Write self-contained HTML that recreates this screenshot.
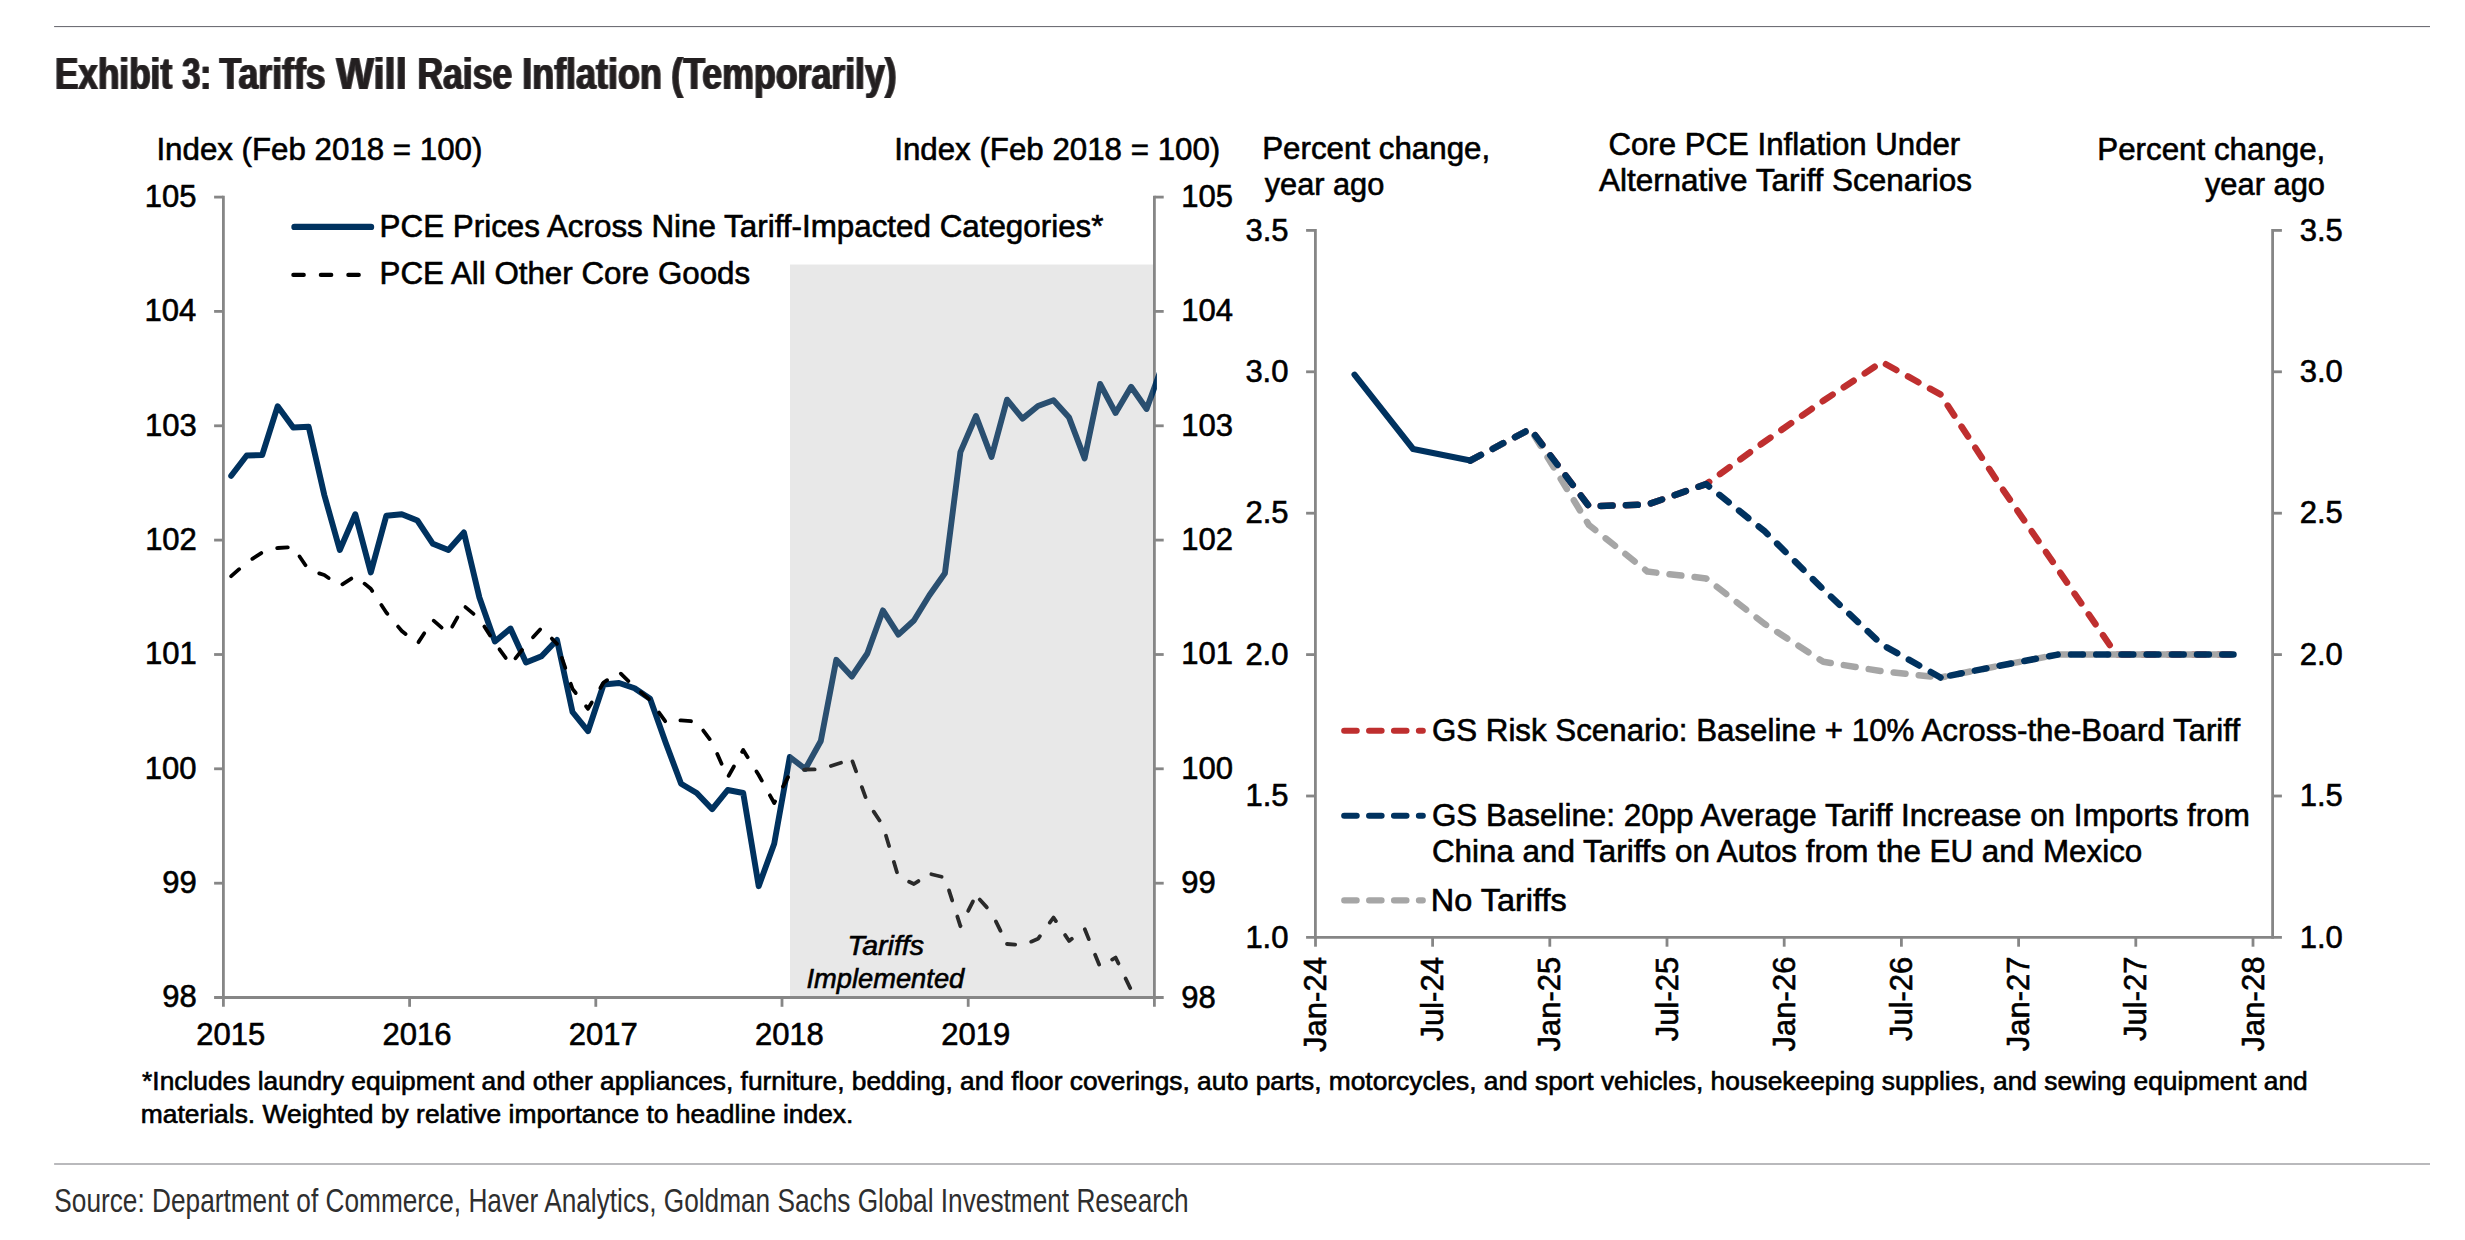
<!DOCTYPE html>
<html lang="en"><head><meta charset="utf-8"><title>Exhibit 3: Tariffs Will Raise Inflation (Temporarily)</title>
<style>html,body{margin:0;padding:0;background:#fff}svg{display:block}text{font-family:"Liberation Sans",sans-serif;stroke:#000;stroke-width:.6px}.ns{stroke:none}</style>
</head><body>
<svg width="2465" height="1240" viewBox="0 0 2465 1240">
<rect width="2465" height="1240" fill="#fff"/>
<rect x="54.1" y="26" width="2375.9" height="1.1" fill="#6f6f76"/>
<rect x="54.1" y="1163.2" width="2375.9" height="1.6" fill="#a9a9ac"/>
<filter id="hb" color-interpolation-filters="sRGB" x="-2%" y="-20%" width="104%" height="140%"><feMorphology in="SourceGraphic" operator="dilate" radius="1 0" result="d"/><feComponentTransfer in="d" result="e"><feFuncA type="linear" slope="0.8"/></feComponentTransfer><feMerge><feMergeNode in="e"/><feMergeNode in="SourceGraphic"/></feMerge></filter>
<text y="88.70" font-size="43.5" font-weight="bold" fill="#231f20" class="ns" filter="url(#hb)"><tspan x="54.88" textLength="117.23" lengthAdjust="spacingAndGlyphs">Exhibit</tspan> <tspan x="182.28" textLength="28.95" lengthAdjust="spacingAndGlyphs">3:</tspan> <tspan x="219.51" textLength="106.01" lengthAdjust="spacingAndGlyphs">Tariffs</tspan> <tspan x="336.16" textLength="70.62" lengthAdjust="spacingAndGlyphs">Will</tspan> <tspan x="417.46" textLength="94.77" lengthAdjust="spacingAndGlyphs">Raise</tspan> <tspan x="522.23" textLength="139.71" lengthAdjust="spacingAndGlyphs">Inflation</tspan> <tspan x="671.25" textLength="225.50" lengthAdjust="spacingAndGlyphs">(Temporarily)</tspan></text>
<text x="54.32" y="1212.00" font-size="33.1" textLength="1134.36" lengthAdjust="spacingAndGlyphs" fill="#2e2e2e" class="ns">Source: Department of Commerce, Haver Analytics, Goldman Sachs Global Investment Research</text>
<line x1="223.4" y1="195.7" x2="223.4" y2="1006.8" stroke="#868686" stroke-width="2.8"/>
<line x1="1154.4" y1="195.7" x2="1154.4" y2="1006.8" stroke="#868686" stroke-width="2.8"/>
<line x1="214.1" y1="997.5" x2="1163.7" y2="997.5" stroke="#868686" stroke-width="2.8"/>
<text x="162.16" y="1007.40" font-size="31" textLength="34.48" lengthAdjust="spacingAndGlyphs">98</text>
<text x="1181.30" y="1007.50" font-size="31" textLength="34.48" lengthAdjust="spacingAndGlyphs">98</text>
<line x1="214.1" y1="883.2" x2="223.4" y2="883.2" stroke="#868686" stroke-width="2.8"/>
<line x1="1154.4" y1="883.2" x2="1163.7" y2="883.2" stroke="#868686" stroke-width="2.8"/>
<text x="162.29" y="893.06" font-size="31" textLength="34.48" lengthAdjust="spacingAndGlyphs">99</text>
<text x="1181.30" y="893.16" font-size="31" textLength="34.48" lengthAdjust="spacingAndGlyphs">99</text>
<line x1="214.1" y1="768.8" x2="223.4" y2="768.8" stroke="#868686" stroke-width="2.8"/>
<line x1="1154.4" y1="768.8" x2="1163.7" y2="768.8" stroke="#868686" stroke-width="2.8"/>
<text x="144.77" y="778.71" font-size="31" textLength="51.72" lengthAdjust="spacingAndGlyphs">100</text>
<text x="1181.30" y="778.81" font-size="31" textLength="51.72" lengthAdjust="spacingAndGlyphs">100</text>
<line x1="214.1" y1="654.5" x2="223.4" y2="654.5" stroke="#868686" stroke-width="2.8"/>
<line x1="1154.4" y1="654.5" x2="1163.7" y2="654.5" stroke="#868686" stroke-width="2.8"/>
<text x="145.08" y="664.37" font-size="31" textLength="51.72" lengthAdjust="spacingAndGlyphs">101</text>
<text x="1181.30" y="664.47" font-size="31" textLength="51.72" lengthAdjust="spacingAndGlyphs">101</text>
<line x1="214.1" y1="540.1" x2="223.4" y2="540.1" stroke="#868686" stroke-width="2.8"/>
<line x1="1154.4" y1="540.1" x2="1163.7" y2="540.1" stroke="#868686" stroke-width="2.8"/>
<text x="145.14" y="550.03" font-size="31" textLength="51.72" lengthAdjust="spacingAndGlyphs">102</text>
<text x="1181.30" y="550.13" font-size="31" textLength="51.72" lengthAdjust="spacingAndGlyphs">102</text>
<line x1="214.1" y1="425.8" x2="223.4" y2="425.8" stroke="#868686" stroke-width="2.8"/>
<line x1="1154.4" y1="425.8" x2="1163.7" y2="425.8" stroke="#868686" stroke-width="2.8"/>
<text x="144.93" y="435.69" font-size="31" textLength="51.72" lengthAdjust="spacingAndGlyphs">103</text>
<text x="1181.30" y="435.79" font-size="31" textLength="51.72" lengthAdjust="spacingAndGlyphs">103</text>
<line x1="214.1" y1="311.4" x2="223.4" y2="311.4" stroke="#868686" stroke-width="2.8"/>
<line x1="1154.4" y1="311.4" x2="1163.7" y2="311.4" stroke="#868686" stroke-width="2.8"/>
<text x="144.49" y="321.34" font-size="31" textLength="51.72" lengthAdjust="spacingAndGlyphs">104</text>
<text x="1181.30" y="321.44" font-size="31" textLength="51.72" lengthAdjust="spacingAndGlyphs">104</text>
<line x1="214.1" y1="197.1" x2="223.4" y2="197.1" stroke="#868686" stroke-width="2.8"/>
<line x1="1154.4" y1="197.1" x2="1163.7" y2="197.1" stroke="#868686" stroke-width="2.8"/>
<text x="144.86" y="207.00" font-size="31" textLength="51.72" lengthAdjust="spacingAndGlyphs">105</text>
<text x="1181.30" y="207.10" font-size="31" textLength="51.72" lengthAdjust="spacingAndGlyphs">105</text>
<line x1="409.6" y1="997.5" x2="409.6" y2="1006.8" stroke="#868686" stroke-width="2.8"/>
<line x1="595.8" y1="997.5" x2="595.8" y2="1006.8" stroke="#868686" stroke-width="2.8"/>
<line x1="782.0" y1="997.5" x2="782.0" y2="1006.8" stroke="#868686" stroke-width="2.8"/>
<line x1="968.2" y1="997.5" x2="968.2" y2="1006.8" stroke="#868686" stroke-width="2.8"/>
<text x="196.29" y="1044.80" font-size="31" textLength="68.96" lengthAdjust="spacingAndGlyphs">2015</text>
<text x="382.52" y="1044.80" font-size="31" textLength="68.96" lengthAdjust="spacingAndGlyphs">2016</text>
<text x="568.83" y="1044.80" font-size="31" textLength="68.96" lengthAdjust="spacingAndGlyphs">2017</text>
<text x="754.92" y="1044.80" font-size="31" textLength="68.96" lengthAdjust="spacingAndGlyphs">2018</text>
<text x="941.18" y="1044.80" font-size="31" textLength="68.96" lengthAdjust="spacingAndGlyphs">2019</text>
<text x="156.42" y="159.80" font-size="31" textLength="326.01" lengthAdjust="spacingAndGlyphs">Index (Feb 2018 = 100)</text>
<text x="894.22" y="159.80" font-size="31" textLength="326.01" lengthAdjust="spacingAndGlyphs">Index (Feb 2018 = 100)</text>
<clipPath id="cl"><rect x="223.4" y="197.1" width="933.5" height="800.4"/></clipPath>
<g clip-path="url(#cl)">
<polyline points="231.2,475.8 246.7,455.5 262.2,455.0 277.7,406.2 293.2,427.5 308.7,426.8 324.3,495.0 339.8,550.0 355.3,514.2 370.8,572.5 386.3,515.8 401.8,514.2 417.4,520.5 432.9,543.8 448.4,550.0 463.9,532.5 479.4,597.5 494.9,641.5 510.5,628.5 526.0,662.5 541.5,656.2 557.0,640.0 572.5,712.0 588.0,731.2 603.6,684.5 619.1,683.0 634.6,688.2 650.1,698.8 665.6,742.5 681.1,783.8 696.7,793.0 712.2,809.2 727.7,790.0 743.2,793.0 758.7,886.2 774.2,843.8 789.8,757.0 805.3,769.0 820.8,741.0 836.3,659.8 851.8,676.5 867.3,653.5 882.9,610.4 898.4,634.6 913.9,620.5 929.4,595.3 944.9,573.3 960.4,452.2 976.0,416.0 991.5,457.0 1007.0,399.7 1022.5,418.6 1038.0,406.0 1053.5,400.3 1069.1,417.6 1084.6,458.5 1100.1,384.0 1115.6,413.0 1131.1,386.8 1146.6,409.0 1162.2,366.0" fill="none" stroke="#00325f" stroke-width="5.9" stroke-linecap="round" stroke-linejoin="round"/>
<polyline points="231.2,576.2 246.7,562.5 262.2,552.5 277.7,548.0 293.2,547.0 308.7,570.0 324.3,575.0 339.8,586.0 355.3,576.0 370.8,588.8 386.3,612.5 401.8,631.0 417.4,643.8" fill="none" stroke="#000" stroke-width="3.8" stroke-dasharray="10.6 16.8" stroke-dashoffset="0" stroke-linecap="round" stroke-linejoin="round"/>
<polyline points="417.4,643.8 432.9,620.0 448.4,633.5 463.9,605.8" fill="none" stroke="#000" stroke-width="3.8" stroke-dasharray="10.6 16.8" stroke-dashoffset="25.4" stroke-linecap="round" stroke-linejoin="round"/>
<polyline points="463.9,605.8 479.4,618.8 494.9,643.0 510.5,664.5" fill="none" stroke="#000" stroke-width="3.8" stroke-dasharray="10.6 16.8" stroke-dashoffset="25.4" stroke-linecap="round" stroke-linejoin="round"/>
<polyline points="510.5,664.5 526.0,645.0 541.5,628.0 557.0,643.8" fill="none" stroke="#000" stroke-width="3.8" stroke-dasharray="10.6 16.8" stroke-dashoffset="19.5" stroke-linecap="round" stroke-linejoin="round"/>
<polyline points="557.0,643.8 572.5,688.8 588.0,708.8 603.6,682.5 619.1,672.0" fill="none" stroke="#000" stroke-width="3.8" stroke-dasharray="10.6 16.8" stroke-dashoffset="12.5" stroke-linecap="round" stroke-linejoin="round"/>
<polyline points="619.1,672.0 634.6,687.0 650.1,700.0 665.6,721.8" fill="none" stroke="#000" stroke-width="3.8" stroke-dasharray="10.6 16.8" stroke-dashoffset="25" stroke-linecap="round" stroke-linejoin="round"/>
<polyline points="665.6,721.8 681.1,720.4 696.7,721.7 712.2,742.5 727.7,777.5" fill="none" stroke="#000" stroke-width="3.8" stroke-dasharray="10.6 16.8" stroke-dashoffset="12.5" stroke-linecap="round" stroke-linejoin="round"/>
<polyline points="727.7,777.5 743.2,750.0 758.7,775.0 774.2,803.0 789.8,774.0" fill="none" stroke="#000" stroke-width="3.8" stroke-dasharray="10.6 16.8" stroke-dashoffset="25.4" stroke-linecap="round" stroke-linejoin="round"/>
<polyline points="789.8,774.0 805.3,769.5 820.8,769.4 836.3,764.2 851.8,759.5" fill="none" stroke="#000" stroke-width="3.8" stroke-dasharray="10.6 16.8" stroke-dashoffset="12.5" stroke-linecap="round" stroke-linejoin="round"/>
<polyline points="851.8,759.5 867.3,802.0 882.9,825.5 898.4,877.0 913.9,884.0 929.4,873.8" fill="none" stroke="#000" stroke-width="3.8" stroke-dasharray="10.6 16.8" stroke-dashoffset="25.4" stroke-linecap="round" stroke-linejoin="round"/>
<polyline points="929.4,873.8 944.9,877.5 960.4,926.2 976.0,895.5" fill="none" stroke="#000" stroke-width="3.8" stroke-dasharray="10.6 16.8" stroke-dashoffset="25.4" stroke-linecap="round" stroke-linejoin="round"/>
<polyline points="976.0,895.5 991.5,912.5 1007.0,944.0" fill="none" stroke="#000" stroke-width="3.8" stroke-dasharray="10.6 16.8" stroke-dashoffset="21.9" stroke-linecap="round" stroke-linejoin="round"/>
<polyline points="1007.0,944.0 1022.5,945.3 1038.0,938.8 1053.5,917.5 1069.1,941.0 1084.6,928.8 1100.1,967.0 1115.6,957.5 1131.1,990.0 1146.6,1040.0" fill="none" stroke="#000" stroke-width="3.8" stroke-dasharray="10.6 16.8" stroke-dashoffset="2.4" stroke-linecap="round" stroke-linejoin="round"/>
</g>
<rect x="790" y="264.5" width="363.0" height="731.7" fill="#a5a5a5" fill-opacity="0.255"/>
<line x1="294.5" y1="226.9" x2="371" y2="226.9" stroke="#00325f" stroke-width="6.4" stroke-linecap="round"/>
<line x1="293.3" y1="274.9" x2="360" y2="274.9" stroke="#000" stroke-width="4.1" stroke-dasharray="10.5 17" stroke-linecap="round"/>
<text x="379.63" y="236.60" font-size="31" textLength="723.86" lengthAdjust="spacingAndGlyphs">PCE Prices Across Nine Tariff-Impacted Categories*</text>
<text x="379.63" y="284.40" font-size="31" textLength="370.51" lengthAdjust="spacingAndGlyphs">PCE All Other Core Goods</text>
<text x="847.46" y="955.00" font-size="27.2" textLength="76.61" lengthAdjust="spacingAndGlyphs" font-style="italic">Tariffs</text>
<text x="806.44" y="987.50" font-size="27.2" textLength="157.82" lengthAdjust="spacingAndGlyphs" font-style="italic">Implemented</text>
<polyline points="1470.4,460.5 1530.3,429.0 1588.9,506.2 1647.5,504.6 1706.1,484.1 1764.7,441.6 1823.3,400.8 1881.9,362.0 1940.5,394.5 1999.1,484.0 2057.7,569.0 2116.3,654.6 2174.9,654.6 2233.5,654.6" stroke="#bf2f2f" stroke-dashoffset="0" stroke-dasharray="11.9 13.3" stroke-linecap="round" stroke-linejoin="round" stroke-width="6.5" fill="none"/>
<polyline points="1470.4,460.5 1530.3,429.0 1588.9,525.0 1647.5,571.6 1706.1,578.4 1764.7,624.0 1823.3,661.8 1881.9,671.2 1940.5,677.5" stroke="#a6a6a6" stroke-dashoffset="0" stroke-dasharray="11.9 13.3" stroke-linecap="round" stroke-linejoin="round" stroke-width="6.5" fill="none"/>
<polyline points="1940.5,677.5 1999.1,665.8 2057.7,654.6 2116.3,654.6 2174.9,654.6 2233.5,654.6" stroke="#a6a6a6" stroke-dashoffset="6.7" stroke-dasharray="11.9 13.3" stroke-linecap="round" stroke-linejoin="round" stroke-width="6.5" fill="none"/>
<polyline points="1470.4,460.5 1530.3,429.0 1588.9,506.2 1647.5,504.6 1706.1,484.1 1764.7,531.3 1823.3,589.4 1881.9,644.5 1940.5,677.5" stroke="#00325f" stroke-dashoffset="0" stroke-dasharray="11.9 13.3" stroke-linecap="round" stroke-linejoin="round" stroke-width="6.5" fill="none"/>
<polyline points="1940.5,677.5 1999.1,665.8 2057.7,654.6" stroke="#00325f" stroke-dashoffset="15.4" stroke-dasharray="11.9 13.3" stroke-linecap="round" stroke-linejoin="round" stroke-width="6.5" fill="none"/>
<polyline points="2057.7,654.6 2116.3,654.6 2174.9,654.6 2233.5,654.6" stroke="#00325f" stroke-dashoffset="11.9" stroke-dasharray="11.9 13.3" stroke-linecap="round" stroke-linejoin="round" stroke-width="6.5" fill="none"/>
<polyline points="1354.5,374.7 1413.1,449.0 1470.4,460.5" stroke="#00325f" stroke-width="6.1" fill="none" stroke-linecap="round" stroke-linejoin="round"/>
<line x1="1315.4" y1="229.0" x2="1315.4" y2="938.8" stroke="#868686" stroke-width="2.8"/>
<line x1="2272.6" y1="229.0" x2="2272.6" y2="938.8" stroke="#868686" stroke-width="2.8"/>
<line x1="1306.1" y1="937.4" x2="2281.9" y2="937.4" stroke="#868686" stroke-width="2.8"/>
<text x="1245.39" y="947.60" font-size="31" textLength="43.09" lengthAdjust="spacingAndGlyphs">1.0</text>
<text x="2299.70" y="947.60" font-size="31" textLength="43.09" lengthAdjust="spacingAndGlyphs">1.0</text>
<line x1="1306.1" y1="796.0" x2="1315.4" y2="796.0" stroke="#868686" stroke-width="2.8"/>
<line x1="2272.6" y1="796.0" x2="2281.9" y2="796.0" stroke="#868686" stroke-width="2.8"/>
<text x="1245.48" y="806.21" font-size="31" textLength="43.09" lengthAdjust="spacingAndGlyphs">1.5</text>
<text x="2299.70" y="806.21" font-size="31" textLength="43.09" lengthAdjust="spacingAndGlyphs">1.5</text>
<line x1="1306.1" y1="654.6" x2="1315.4" y2="654.6" stroke="#868686" stroke-width="2.8"/>
<line x1="2272.6" y1="654.6" x2="2281.9" y2="654.6" stroke="#868686" stroke-width="2.8"/>
<text x="1245.39" y="664.82" font-size="31" textLength="43.09" lengthAdjust="spacingAndGlyphs">2.0</text>
<text x="2299.70" y="664.82" font-size="31" textLength="43.09" lengthAdjust="spacingAndGlyphs">2.0</text>
<line x1="1306.1" y1="513.2" x2="1315.4" y2="513.2" stroke="#868686" stroke-width="2.8"/>
<line x1="2272.6" y1="513.2" x2="2281.9" y2="513.2" stroke="#868686" stroke-width="2.8"/>
<text x="1245.48" y="523.43" font-size="31" textLength="43.09" lengthAdjust="spacingAndGlyphs">2.5</text>
<text x="2299.70" y="523.43" font-size="31" textLength="43.09" lengthAdjust="spacingAndGlyphs">2.5</text>
<line x1="1306.1" y1="371.8" x2="1315.4" y2="371.8" stroke="#868686" stroke-width="2.8"/>
<line x1="2272.6" y1="371.8" x2="2281.9" y2="371.8" stroke="#868686" stroke-width="2.8"/>
<text x="1245.39" y="382.04" font-size="31" textLength="43.09" lengthAdjust="spacingAndGlyphs">3.0</text>
<text x="2299.70" y="382.04" font-size="31" textLength="43.09" lengthAdjust="spacingAndGlyphs">3.0</text>
<line x1="1306.1" y1="230.4" x2="1315.4" y2="230.4" stroke="#868686" stroke-width="2.8"/>
<line x1="2272.6" y1="230.4" x2="2281.9" y2="230.4" stroke="#868686" stroke-width="2.8"/>
<text x="1245.48" y="240.65" font-size="31" textLength="43.09" lengthAdjust="spacingAndGlyphs">3.5</text>
<text x="2299.70" y="240.65" font-size="31" textLength="43.09" lengthAdjust="spacingAndGlyphs">3.5</text>
<line x1="1315.5" y1="937.4" x2="1315.5" y2="946.7" stroke="#868686" stroke-width="2.8"/>
<text transform="translate(1326.0,1051.9) rotate(-90)" font-size="31" textLength="94.79" lengthAdjust="spacingAndGlyphs">Jan-24</text>
<line x1="1432.6" y1="937.4" x2="1432.6" y2="946.7" stroke="#868686" stroke-width="2.8"/>
<text transform="translate(1443.1,1041.5) rotate(-90)" font-size="31" textLength="84.43" lengthAdjust="spacingAndGlyphs">Jul-24</text>
<line x1="1549.8" y1="937.4" x2="1549.8" y2="946.7" stroke="#868686" stroke-width="2.8"/>
<text transform="translate(1560.3,1051.5) rotate(-90)" font-size="31" textLength="94.79" lengthAdjust="spacingAndGlyphs">Jan-25</text>
<line x1="1667.0" y1="937.4" x2="1667.0" y2="946.7" stroke="#868686" stroke-width="2.8"/>
<text transform="translate(1677.5,1041.2) rotate(-90)" font-size="31" textLength="84.43" lengthAdjust="spacingAndGlyphs">Jul-25</text>
<line x1="1784.2" y1="937.4" x2="1784.2" y2="946.7" stroke="#868686" stroke-width="2.8"/>
<text transform="translate(1794.7,1051.4) rotate(-90)" font-size="31" textLength="94.79" lengthAdjust="spacingAndGlyphs">Jan-26</text>
<line x1="1901.4" y1="937.4" x2="1901.4" y2="946.7" stroke="#868686" stroke-width="2.8"/>
<text transform="translate(1911.9,1041.1) rotate(-90)" font-size="31" textLength="84.43" lengthAdjust="spacingAndGlyphs">Jul-26</text>
<line x1="2018.6" y1="937.4" x2="2018.6" y2="946.7" stroke="#868686" stroke-width="2.8"/>
<text transform="translate(2029.1,1051.2) rotate(-90)" font-size="31" textLength="94.79" lengthAdjust="spacingAndGlyphs">Jan-27</text>
<line x1="2135.8" y1="937.4" x2="2135.8" y2="946.7" stroke="#868686" stroke-width="2.8"/>
<text transform="translate(2146.3,1040.9) rotate(-90)" font-size="31" textLength="84.43" lengthAdjust="spacingAndGlyphs">Jul-27</text>
<line x1="2253.0" y1="937.4" x2="2253.0" y2="946.7" stroke="#868686" stroke-width="2.8"/>
<text transform="translate(2263.5,1051.4) rotate(-90)" font-size="31" textLength="94.79" lengthAdjust="spacingAndGlyphs">Jan-28</text>
<text x="1262.23" y="159.40" font-size="31" textLength="227.98" lengthAdjust="spacingAndGlyphs">Percent change,</text>
<text x="1264.74" y="195.20" font-size="31" textLength="119.54" lengthAdjust="spacingAndGlyphs">year ago</text>
<text x="1608.54" y="155.10" font-size="31" textLength="351.67" lengthAdjust="spacingAndGlyphs">Core PCE Inflation Under</text>
<text x="1598.94" y="190.90" font-size="31" textLength="372.99" lengthAdjust="spacingAndGlyphs">Alternative Tariff Scenarios</text>
<text x="2097.33" y="159.60" font-size="31" textLength="227.98" lengthAdjust="spacingAndGlyphs">Percent change,</text>
<text x="2204.94" y="194.90" font-size="31" textLength="120.05" lengthAdjust="spacingAndGlyphs">year ago</text>
<line x1="1344.2" y1="730.8" x2="1422.8" y2="730.8" stroke="#bf2f2f" stroke-dasharray="12.5 12.4" stroke-linecap="round" stroke-width="6.1" fill="none"/>
<line x1="1344.2" y1="815.8" x2="1422.8" y2="815.8" stroke="#00325f" stroke-dasharray="12.5 12.4" stroke-linecap="round" stroke-width="6.1" fill="none"/>
<line x1="1344.2" y1="900.4" x2="1422.8" y2="900.4" stroke="#a6a6a6" stroke-dasharray="12.5 12.4" stroke-linecap="round" stroke-width="6.1" fill="none"/>
<text x="1431.94" y="741.00" font-size="31" textLength="808.19" lengthAdjust="spacingAndGlyphs">GS Risk Scenario: Baseline + 10% Across-the-Board Tariff</text>
<text x="1431.93" y="826.40" font-size="31" textLength="817.91" lengthAdjust="spacingAndGlyphs">GS Baseline: 20pp Average Tariff Increase on Imports from</text>
<text x="1431.93" y="862.30" font-size="31" textLength="710.36" lengthAdjust="spacingAndGlyphs">China and Tariffs on Autos from the EU and Mexico</text>
<text x="1430.84" y="910.80" font-size="31" textLength="135.83" lengthAdjust="spacingAndGlyphs">No Tariffs</text>
<text x="142.08" y="1090.20" font-size="25.3" textLength="2165.61" lengthAdjust="spacingAndGlyphs">*Includes laundry equipment and other appliances, furniture, bedding, and floor coverings, auto parts, motorcycles, and sport vehicles, housekeeping supplies, and sewing equipment and</text>
<text x="140.76" y="1122.80" font-size="25.3" textLength="712.65" lengthAdjust="spacingAndGlyphs">materials. Weighted by relative importance to headline index.</text>
</svg>
</body></html>
